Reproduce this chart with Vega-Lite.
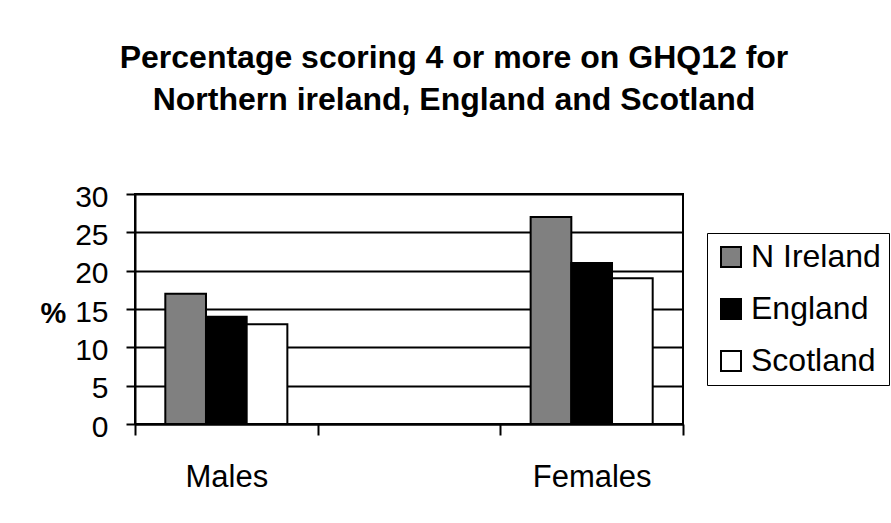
{
  "$schema": "https://vega.github.io/schema/vega-lite/v6.json",
  "width": 548,
  "height": 230,
  "autosize": {"type": "none"},
  "padding": {"left": 135, "top": 194, "right": 208, "bottom": 99},
  "background": "white",
  "title": {
    "text": ["Percentage scoring 4 or more on GHQ12 for", "Northern ireland, England and Scotland"],
    "font": "Liberation Sans",
    "fontSize": 32,
    "fontWeight": "bold",
    "color": "black",
    "anchor": "middle",
    "frame": "group",
    "dx": 45,
    "lineHeight": 42,
    "baseline": "bottom",
    "offset": 33
  },
  "data": {
    "values": [
      {"sex": "Males", "country": "N Ireland", "pct": 17},
      {"sex": "Males", "country": "England", "pct": 14},
      {"sex": "Males", "country": "Scotland", "pct": 13},
      {"sex": "Females", "country": "N Ireland", "pct": 27},
      {"sex": "Females", "country": "England", "pct": 21},
      {"sex": "Females", "country": "Scotland", "pct": 19}
    ]
  },
  "mark": {"type": "bar", "stroke": "black", "strokeWidth": 2},
  "encoding": {
    "x": {
      "field": "sex",
      "type": "nominal",
      "scale": {"domain": ["Males", "", "Females"], "paddingInner": 0, "paddingOuter": 0},
      "axis": {
        "title": null,
        "labelAngle": 0,
        "labelFont": "Liberation Sans",
        "labelFontSize": 31,
        "labelColor": "black",
        "labelPadding": 27,
        "tickBand": "extent",
        "tickSize": 11,
        "tickWidth": 2,
        "tickColor": "black",
        "domainColor": "black",
        "domainWidth": 2,
        "grid": false
      }
    },
    "xOffset": {
      "field": "country",
      "type": "nominal",
      "scale": {"domain": ["N Ireland", "England", "Scotland"], "paddingInner": 0, "paddingOuter": 0.745}
    },
    "y": {
      "field": "pct",
      "type": "quantitative",
      "scale": {"domain": [0, 30], "nice": false},
      "axis": {
        "values": [0, 5, 10, 15, 20, 25, 30],
        "title": "%",
        "titleAngle": 0,
        "titleFont": "Liberation Sans",
        "titleFontSize": 29,
        "titleFontWeight": "bold",
        "titleColor": "black",
        "titleAlign": "center",
        "titleBaseline": "middle",
        "titleX": -82,
        "titleY": 119,
        "labelFont": "Liberation Sans",
        "labelFontSize": 30,
        "labelColor": "black",
        "labelPadding": 18,
        "labelOffset": 3,
        "tickSize": 9,
        "tickWidth": 2,
        "tickColor": "black",
        "domainColor": "black",
        "domainWidth": 2,
        "grid": true,
        "gridColor": "black",
        "gridWidth": 2,
        "gridOpacity": 1
      }
    },
    "color": {
      "field": "country",
      "type": "nominal",
      "scale": {"domain": ["N Ireland", "England", "Scotland"], "range": ["#808080", "#000000", "#ffffff"]},
      "legend": {
        "title": null,
        "orient": "none",
        "legendX": 572,
        "legendY": 39,
        "direction": "vertical",
        "strokeColor": "black",
        "fillColor": "white",
        "padding": 8,
        "symbolType": "square",
        "symbolSize": 400,
        "symbolStrokeColor": "black",
        "symbolStrokeWidth": 2,
        "symbolOpacity": 1,
        "labelFont": "Liberation Sans",
        "labelFontSize": 32,
        "labelColor": "black",
        "labelOffset": 4,
        "rowPadding": 20,
        "labelLimit": 300
      }
    }
  },
  "config": {
    "view": {"stroke": "black", "strokeWidth": 2}
  }
}
